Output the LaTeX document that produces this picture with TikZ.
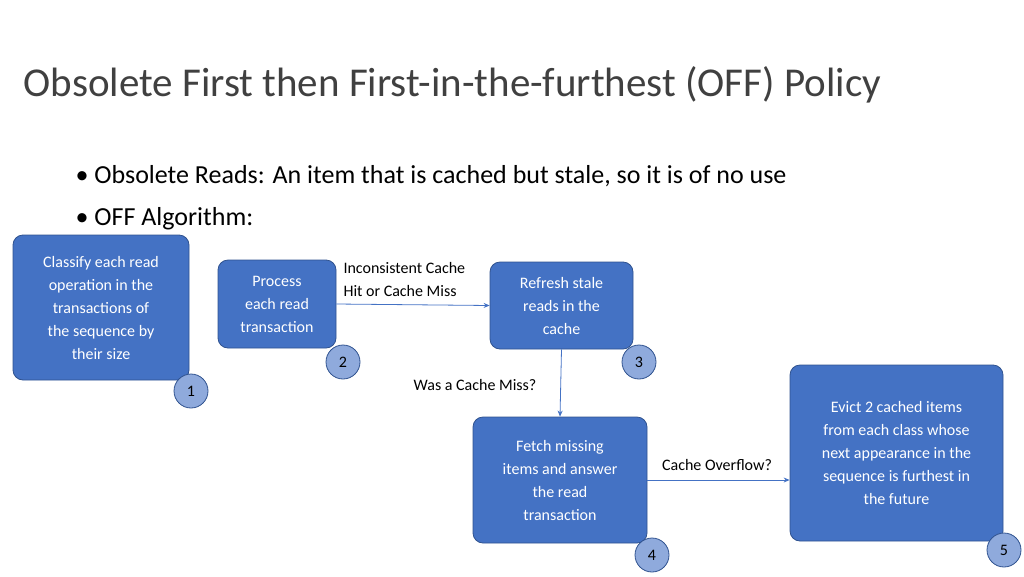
\documentclass[tikz,border=0pt]{standalone}
\usepackage{fontspec}
\setmainfont{Carlito}
\usetikzlibrary{arrows.meta}
\definecolor{boxfill}{HTML}{4472C4}
\definecolor{boxline}{HTML}{2F528F}
\definecolor{circfill}{HTML}{8FAADC}
\definecolor{txt}{HTML}{404040}
\begin{document}
\begin{tikzpicture}[x=1pt,y=-1pt,
  box/.style={draw=boxline,fill=boxfill,rounded corners=10pt,text=white,font=\fontsize{16}{23}\selectfont,align=center,line width=0.8pt},
  num/.style={circle,draw=boxline,fill=circfill,minimum size=34pt,inner sep=0pt,font=\fontsize{16}{18}\selectfont,line width=0.8pt},
  arr/.style={-{Stealth[length=6pt,width=5pt]},draw=boxfill,line width=0.8pt},
  lbl/.style={font=\fontsize{16}{23}\selectfont,align=left}]
\useasboundingbox (0,0) rectangle (1024,576);
\node[anchor=west,font=\fontsize{41}{48}\selectfont,text=txt] (title) at (20,85) {Obsolete First then First-in-the-furthest (OFF) Policy};
\node[anchor=west,font=\fontsize{26}{30}\selectfont] (b1) at (72,176) {\textbullet\ Obsolete Reads: An item that is cached but stale, so it is of no use};
\node[anchor=west,font=\fontsize{26}{30}\selectfont] (b2) at (72,219) {\textbullet\ OFF Algorithm:};
\node[box,minimum width=176pt,minimum height=145pt] (c) at (101,307.5) {Classify each read\\operation in the\\transactions of\\the sequence by\\their size};
\node[box,minimum width=118pt,minimum height=88pt] (p) at (277,304) {Process\\each read\\transaction};
\node[box,minimum width=143pt,minimum height=87pt] (r) at (561.5,305.5) {Refresh stale\\reads in the\\cache};
\node[box,minimum width=174pt,minimum height=126pt] (f) at (560,480) {Fetch missing\\items and answer\\the read\\transaction};
\node[box,minimum width=213pt,minimum height=176pt] (e) at (896.5,453) {Evict 2 cached items\\from each class whose\\next appearance in the\\sequence is furthest in\\the future};
\node[num] (n1) at (191,391) {1};
\node[num] (n2) at (343,362) {2};
\node[num] (n3) at (639,362) {3};
\node[num] (n4) at (652,555) {4};
\node[num] (n5) at (1004,550) {5};
\draw[arr] (p.east) -- (r.west);
\draw[arr] (r.south) -- (f.north);
\draw[arr] (f.east |- 0,480) -- (e.west |- 0,480);
\node[lbl,anchor=west] (l1) at (340,279) {Inconsistent Cache\\Hit or Cache Miss};
\node[lbl] (l2) at (475,385) {Was a Cache Miss?};
\node[lbl] (l3) at (717,465) {Cache Overflow?};
\end{tikzpicture}
\end{document}
